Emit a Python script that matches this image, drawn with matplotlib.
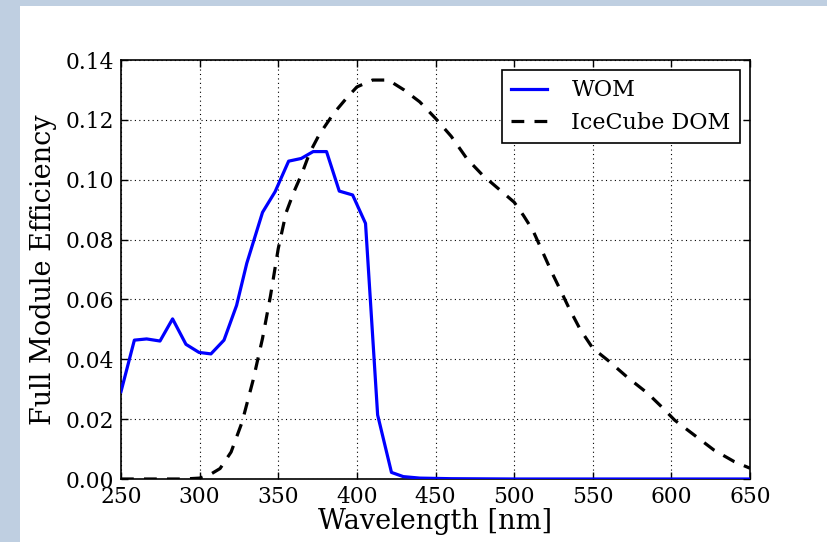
import matplotlib
matplotlib.use("Agg")
import matplotlib.pyplot as plt
from matplotlib.patches import Rectangle

wom_x = [250, 258.5, 266.3, 274.8, 282.8, 291.3, 299.6, 307.2, 315.5, 323.5,
         330, 340, 348, 356.6, 364.6, 372.2, 380.7, 388.8, 397.3, 405.5,
         413.2, 422, 429.5, 440, 460, 500, 550, 600, 650]
wom_y = [0.0292, 0.0464, 0.0468, 0.0461, 0.0535, 0.0450, 0.0423, 0.0418, 0.0464, 0.0580,
         0.0721, 0.0891, 0.0960, 0.1062, 0.1071, 0.1094, 0.1094, 0.0962, 0.0949, 0.0854,
         0.0214, 0.0022, 0.0008, 0.0003, 0.0001, 0.0, 0.0, 0.0, 0.0]

dom_x = [250, 260, 270, 280, 290, 300, 307, 313, 320, 327, 334, 340, 345, 350, 355,
         360, 365, 370, 376, 385, 393, 400, 410, 420, 430, 440, 450, 460, 470, 480,
         490, 500, 506, 512, 518, 524, 530, 535, 542, 550, 560, 572, 585, 595, 602,
         616, 627, 640, 650]
dom_y = [0.0, 0.0, 0.0, 0.0, 0.0, 0.0003, 0.0016, 0.0035, 0.0090, 0.0190, 0.0330, 0.0470,
         0.0610, 0.0770, 0.0890, 0.0960, 0.1020, 0.1090, 0.1150, 0.1220, 0.1270, 0.1310,
         0.1333, 0.1333, 0.1300, 0.1260, 0.1205, 0.1145, 0.1070, 0.1015, 0.0970, 0.0925,
         0.0880, 0.0830, 0.0760, 0.0690, 0.0625, 0.0570, 0.0500, 0.0437, 0.0395, 0.0340,
         0.0286, 0.0235, 0.0197, 0.0141, 0.0097, 0.0058, 0.0036]

x_ticks = [250, 300, 350, 400, 450, 500, 550, 600, 650]
y_ticks = [0.00, 0.02, 0.04, 0.06, 0.08, 0.10, 0.12, 0.14]

plt.rcParams['font.family'] = ['DejaVu Serif']
plt.rcParams['mathtext.fontset'] = 'dejavuserif'

fig = plt.figure(figsize=(8.27, 5.42), dpi=100)
fig.patch.set_facecolor('#bfcfe1')
bg = Rectangle((20 / 827, 0), 1, 1 - 6 / 542, transform=fig.transFigure,
               facecolor='white', edgecolor='none', zorder=-10)
fig.add_artist(bg)

ax = fig.add_axes([121 / 827, 1 - 479 / 542, (750 - 121) / 827, (479 - 60) / 542])
ax.set_zorder(1)
ax.plot(wom_x, wom_y, color='#0000ff', lw=2.3, label='WOM', zorder=3)
ax.plot(dom_x, dom_y, color='black', lw=2.3, linestyle=(0, (4, 3.2)), label='IceCube DOM', zorder=3)

ax.set_xlim(250, 650)
ax.set_ylim(0, 0.14)
ax.set_xticks(x_ticks)
ax.set_yticks(y_ticks)
ax.set_xticklabels([str(v) for v in x_ticks])
ax.set_yticklabels([f"{v:.2f}" for v in y_ticks])
ax.tick_params(direction='in', top=True, right=True, length=5, width=1,
               labelsize=15.7, pad=5)
ax.grid(True, color='black', linestyle=(0, (1, 3)), linewidth=0.8)
for s in ax.spines.values():
    s.set_linewidth(1.2)

ax.set_xlabel('Wavelength [nm]', fontsize=19.5, labelpad=0)
ax.set_ylabel('Full Module Efficiency', fontsize=19.5, labelpad=6)

leg = ax.legend(loc='upper right', fontsize=16, fancybox=False, framealpha=1,
                edgecolor='black', handlelength=1.6, handletextpad=1.1,
                borderaxespad=0.45, borderpad=0.42, labelspacing=0.48)
leg.get_frame().set_linewidth(1.2)

fig.savefig('out.png', dpi=100, facecolor=fig.get_facecolor())
